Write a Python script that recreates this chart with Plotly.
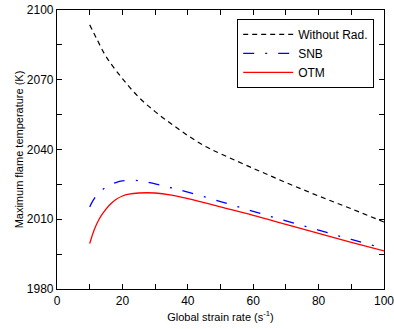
import plotly.graph_objects as go

strain_norad = [10, 12, 15, 20, 25, 30, 35, 40, 45, 50, 60, 70, 80, 90, 100]
temp_norad = [2093.6, 2088, 2080, 2070.5, 2062.5, 2056.3, 2051, 2046, 2041.6, 2038.2, 2031.9, 2025.8, 2020, 2014.5, 2008.8]

strain_snb = [10, 11, 12, 14, 16, 18, 20, 25, 30, 35, 40, 50, 60, 70, 80, 90, 100]
temp_snb = [2015.3, 2018, 2020, 2022.8, 2024.6, 2025.8, 2026.5, 2026.6, 2025.2, 2023.5, 2021.7, 2017.6, 2013.4, 2009.3, 2005.3, 2001.3, 1997.4]

strain_otm = [10, 11, 12, 13, 14, 16, 18, 20, 22, 25, 30, 35, 40, 50, 60, 70, 80, 90, 100]
temp_otm = [1999.5, 2004, 2007.5, 2010.3, 2012.5, 2016, 2018.5, 2020, 2020.8, 2021.3, 2021.3, 2020.4, 2018.9, 2015.3, 2011.7, 2007.8, 2003.9, 2000.1, 1996.4]

FONT = "Liberation Sans, Arial, sans-serif"

fig = go.Figure()
fig.add_trace(go.Scatter(x=strain_norad, y=temp_norad, mode="lines", name="Without Rad.",
                         line=dict(color="black", width=1.2, dash="5px,4px", shape="spline")))
fig.add_trace(go.Scatter(x=strain_snb, y=temp_snb, mode="lines", name="SNB",
                         line=dict(color="blue", width=1.3, dash="11px,11px,2px,11px", shape="spline")))
fig.add_trace(go.Scatter(x=strain_otm, y=temp_otm, mode="lines", name="OTM",
                         line=dict(color="red", width=1.3, shape="spline")))

axis_common = dict(showgrid=False, zeroline=False, showline=True, linecolor="black", linewidth=1.2,
                   mirror="ticks", ticks="inside", ticklen=5, tickwidth=1, tickcolor="black",
                   automargin=False, ticklabeloverflow="allow",
                   tickfont=dict(family=FONT, size=12, color="black"))

fig.update_xaxes(range=[0, 100], dtick=20, tick0=0,
                 minor=dict(dtick=10, ticks="inside", ticklen=5, tickcolor="black"),
                 title=dict(text="Global strain rate (s<sup>-1</sup>)", font=dict(family=FONT, size=11, color="black"), standoff=6),
                 **axis_common)
fig.update_yaxes(range=[1980, 2100], dtick=30, tick0=1980,
                 minor=dict(dtick=15, ticks="inside", ticklen=5, tickcolor="black"),
                 title=dict(text="Maximum flame temperature (K)", font=dict(family=FONT, size=11, color="black"), standoff=0),
                 **axis_common)

fig.update_layout(
    width=394, height=329,
    margin=dict(l=57, r=10, t=10, b=40),
    plot_bgcolor="white", paper_bgcolor="white",
    font=dict(family=FONT, size=11, color="black"),
    legend=dict(x=0.97, y=0.968, xanchor="right", yanchor="top",
                bordercolor="black", borderwidth=1, bgcolor="white", itemwidth=50,
                font=dict(family=FONT, size=12, color="black")),
)

fig.write_html("out.html", config={"displayModeBar": False},
               post_script="document.body.style.margin='0';document.body.style.overflow='hidden';")
